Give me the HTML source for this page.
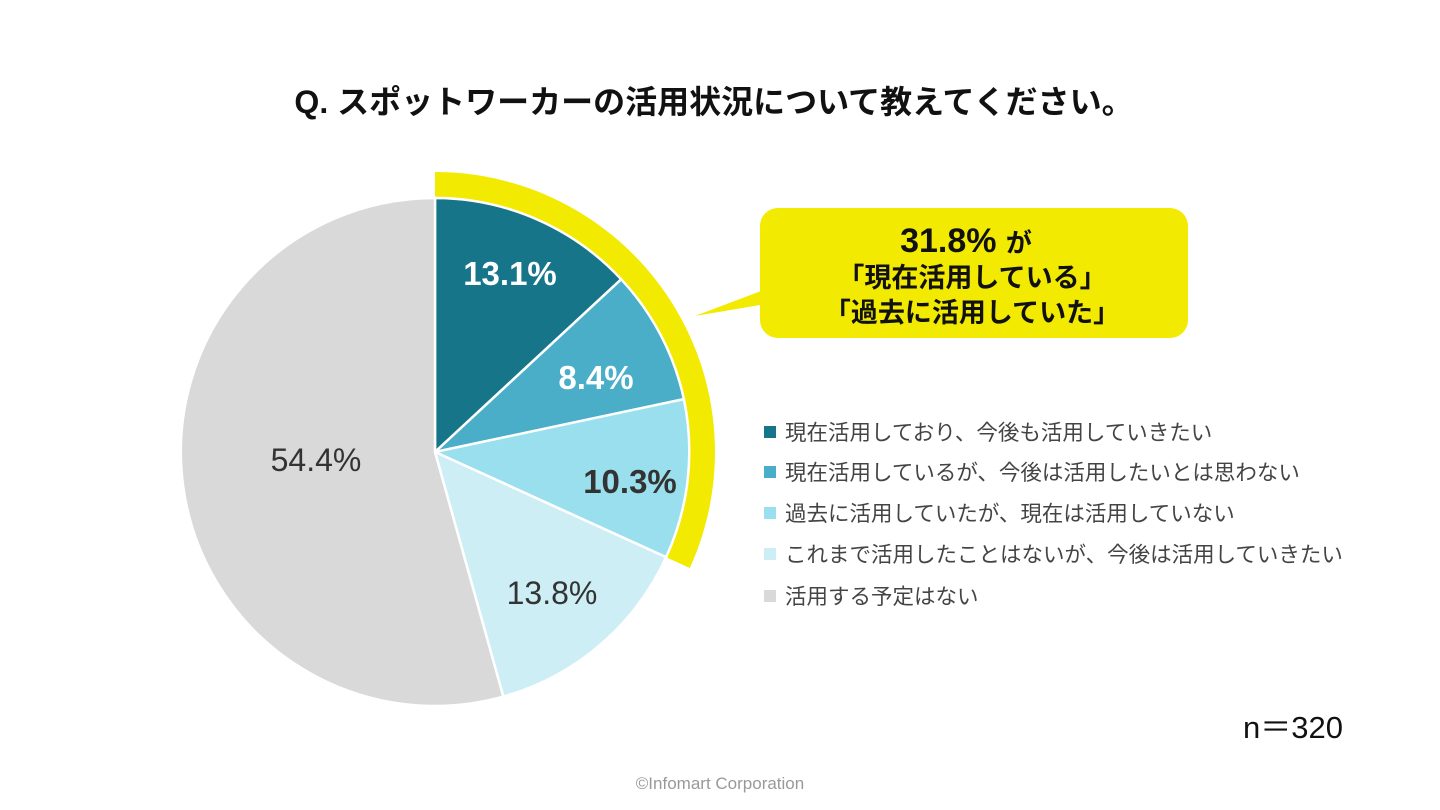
<!DOCTYPE html>
<html><head><meta charset="utf-8"><style>
html,body{margin:0;padding:0;background:#fff;}
body{width:1440px;height:810px;overflow:hidden;position:relative;font-family:"Liberation Sans","Noto Sans CJK JP",sans-serif;}
</style></head><body>
<svg width="1440" height="810" viewBox="0 0 1440 810" xmlns="http://www.w3.org/2000/svg" style="position:absolute;left:0;top:0">
<text x="714" y="113" text-anchor="middle" font-family="Liberation Sans,Noto Sans CJK JP,sans-serif" font-size="32" font-weight="bold" fill="#111">Q. スポットワーカーの活用状況について教えてください。</text>
<path d="M435,172 A280,280 0 0 1 689.8,568.0 L666.1,557.2 A254,254 0 0 0 435,198 Z" fill="#f2ea00"/>
<g stroke="#fff" stroke-width="2.5">
<path d="M435,452 L435,198 A254,254 0 0 1 621.2,279.3 Z" fill="#17758a"/>
<path d="M435,452 L621.2,279.3 A254,254 0 0 1 683.9,399.1 Z" fill="#4aaec8"/>
<path d="M435,452 L683.9,399.1 A254,254 0 0 1 666.1,557.2 Z" fill="#9adfee"/>
<path d="M435,452 L666.1,557.2 A254,254 0 0 1 503.3,696.6 Z" fill="#cdeef5"/>
<path d="M435,452 L503.3,696.6 A254,254 0 1 1 435,198 Z" fill="#d9d9d9"/>
</g>
<g font-family="Liberation Sans,Noto Sans CJK JP,sans-serif" text-anchor="middle">
<text x="510" y="285" fill="#fff" font-weight="bold" font-size="33">13.1%</text>
<text x="596" y="389" fill="#fff" font-weight="bold" font-size="33">8.4%</text>
<text x="630" y="493" fill="#333" font-weight="bold" font-size="33">10.3%</text>
<text x="552" y="604" fill="#333" font-size="32">13.8%</text>
<text x="316" y="471" fill="#333" font-size="32">54.4%</text>
</g>
<path d="M695,316 L790,280 L790,300 Z" fill="#f2ea00"/>
<rect x="760" y="208" width="428" height="130" rx="18" fill="#f2ea00"/>
<g font-family="Liberation Sans,Noto Sans CJK JP,sans-serif" text-anchor="middle" font-weight="bold" fill="#111">
<text x="966" y="252" font-size="34">31.8% <tspan font-size="26">が</tspan></text>
<text x="972" y="287" font-size="27">「現在活用している」</text>
<text x="972" y="322" font-size="27">「過去に活用していた」</text>
</g>
<g font-family="Liberation Sans,Noto Sans CJK JP,sans-serif" font-size="21.5" fill="#444">
<rect x="764" y="426" width="12" height="12" fill="#17758a"/><text x="785" y="440">現在活用しており、今後も活用していきたい</text>
<rect x="764" y="466" width="12" height="12" fill="#4aaec8"/><text x="785" y="480">現在活用しているが、今後は活用したいとは思わない</text>
<rect x="764" y="507" width="12" height="12" fill="#9adfee"/><text x="785" y="521">過去に活用していたが、現在は活用していない</text>
<rect x="764" y="548" width="12" height="12" fill="#cdeef5"/><text x="785" y="562">これまで活用したことはないが、今後は活用していきたい</text>
<rect x="764" y="590" width="12" height="12" fill="#d9d9d9"/><text x="785" y="604">活用する予定はない</text>
</g>
<text x="1343" y="738" text-anchor="end" font-family="Liberation Sans,Noto Sans CJK JP,sans-serif" font-size="31" fill="#111">n＝320</text>
<text x="720" y="789" text-anchor="middle" font-family="Liberation Sans,sans-serif" font-size="17" fill="#999">©Infomart Corporation</text>
</svg>
</body></html>
